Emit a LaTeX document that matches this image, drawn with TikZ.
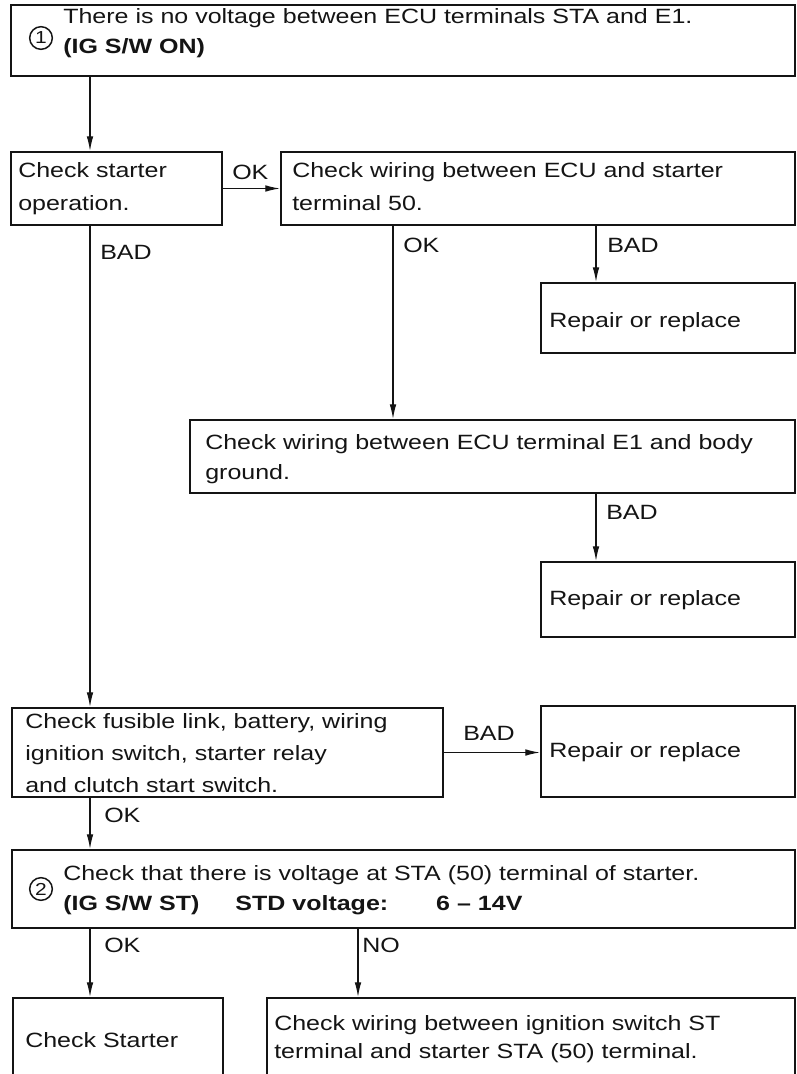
\documentclass[tikz,border=0pt]{standalone}
\usepackage{fontspec}
\setmainfont{Liberation Sans}[FakeStretch=1.21]
\usetikzlibrary{arrows.meta,fit}
\definecolor{ink}{HTML}{141414}
\begin{document}
\begin{tikzpicture}[x=0.75pt,y=-0.75pt,
  box/.style={draw=ink, line width=1.6pt, rectangle, inner sep=0pt},
  txt/.style={anchor=base west, inner sep=0pt, align=left, text=ink},
  lbl/.style={anchor=west, inner sep=0pt, text=ink, font=\fontsize{15.5pt}{18pt}\selectfont},
  num/.style={circle, draw=ink, line width=1.1pt, inner sep=0pt, minimum size=17pt, text=ink, font=\fontsize{13pt}{13pt}\selectfont},
  conn/.style={draw=ink, line width=0.9pt, -{Latex[length=11pt,width=5pt]}}]
\useasboundingbox (0,0) rectangle (796,1074);
\fill[white] (0,0) rectangle (796,1074);
\clip (0,0) rectangle (796,1074);
\coordinate (colA) at (90,0);
\coordinate (colB) at (393,0);
\coordinate (colC) at (596,0);
\coordinate (colD) at (358,0);

\node[box, fit={(11,5) (795,76)}] (top) {};
\node[num] (n1) at (41,38) {1};
\node[txt, font=\fontsize{15.5pt}{23pt}\selectfont] (topt) at (63,54) {There is no voltage between ECU terminals STA and E1.\\\textbf{(IG S/W ON)}};

\node[box, fit={(11,152) (222,225)}] (start) {};
\node[txt, font=\fontsize{15.5pt}{24.75pt}\selectfont] (startt) at (18,210) {Check starter\\operation.};

\node[box, fit={(281,152) (795,225)}] (wire) {};
\node[txt, font=\fontsize{15.5pt}{24.75pt}\selectfont] (wiret) at (292,210) {Check wiring between ECU and starter\\terminal 50.};

\node[box, fit={(541,283) (795,353)}] (rep1) {};
\node[txt, font=\fontsize{15.5pt}{18pt}\selectfont] (rep1t) at (549,327) {Repair or replace};

\node[box, fit={(190,420) (795,493)}] (e1) {};
\node[txt, font=\fontsize{15.5pt}{22.5pt}\selectfont] (e1t) at (205,479) {Check wiring between ECU terminal E1 and body\\ground.};

\node[box, fit={(541,562) (795,637)}] (rep2) {};
\node[txt, font=\fontsize{15.5pt}{18pt}\selectfont] (rep2t) at (549,605) {Repair or replace};

\node[box, fit={(12,708) (443,797)}] (fus) {};
\node[txt, font=\fontsize{15.5pt}{24pt}\selectfont] (fust) at (25,792) {Check fusible link, battery, wiring\\ignition switch, starter relay\\and clutch start switch.};

\node[box, fit={(541,706) (795,797)}] (rep3) {};
\node[txt, font=\fontsize{15.5pt}{18pt}\selectfont] (rep3t) at (549,757) {Repair or replace};

\node[box, fit={(12,850) (795,928)}] (chk2) {};
\node[num] (n2) at (41,889) {2};
\node[txt, font=\fontsize{15.5pt}{22.5pt}\selectfont] (chk2t) at (63,910) {Check that there is voltage at STA (50) terminal of starter.\\\textbf{(IG S/W ST)\hspace{27pt}STD voltage:\hspace{36pt}6 -- 14V}};

\node[box, fit={(13,998) (223,1090)}] (starter) {};
\node[txt, font=\fontsize{15.5pt}{18pt}\selectfont] (startert) at (25,1047) {Check Starter};

\node[box, fit={(267,998) (795,1090)}] (ign) {};
\node[txt, font=\fontsize{15.5pt}{21pt}\selectfont] (ignt) at (274,1058) {Check wiring between ignition switch ST\\terminal and starter STA (50) terminal.};

\draw[conn] (top.south -| colA) -- (start.north -| colA);
\draw[conn] (start.east) -- (wire.west);
\draw[conn] (wire.south -| colC) -- (rep1.north -| colC);
\draw[conn] (wire.south -| colB) -- (e1.north -| colB);
\draw[conn] (e1.south -| colC) -- (rep2.north -| colC);
\draw[conn] (start.south -| colA) -- (fus.north -| colA);
\draw[conn] (fus.east) -- (fus.east -| rep3.west);
\draw[conn] (fus.south -| colA) -- (chk2.north -| colA);
\draw[conn] (chk2.south -| colA) -- (starter.north -| colA);
\draw[conn] (chk2.south -| colD) -- (ign.north -| colD);

\node[lbl] (l1) at (232,172) {OK};
\node[lbl] (l2) at (100,252) {BAD};
\node[lbl] (l3) at (403,245) {OK};
\node[lbl] (l4) at (607,245) {BAD};
\node[lbl] (l5) at (606,512) {BAD};
\node[lbl] (l6) at (463,733) {BAD};
\node[lbl] (l7) at (104,815) {OK};
\node[lbl] (l8) at (104,945) {OK};
\node[lbl] (l9) at (362,945) {NO};
\end{tikzpicture}
\end{document}
